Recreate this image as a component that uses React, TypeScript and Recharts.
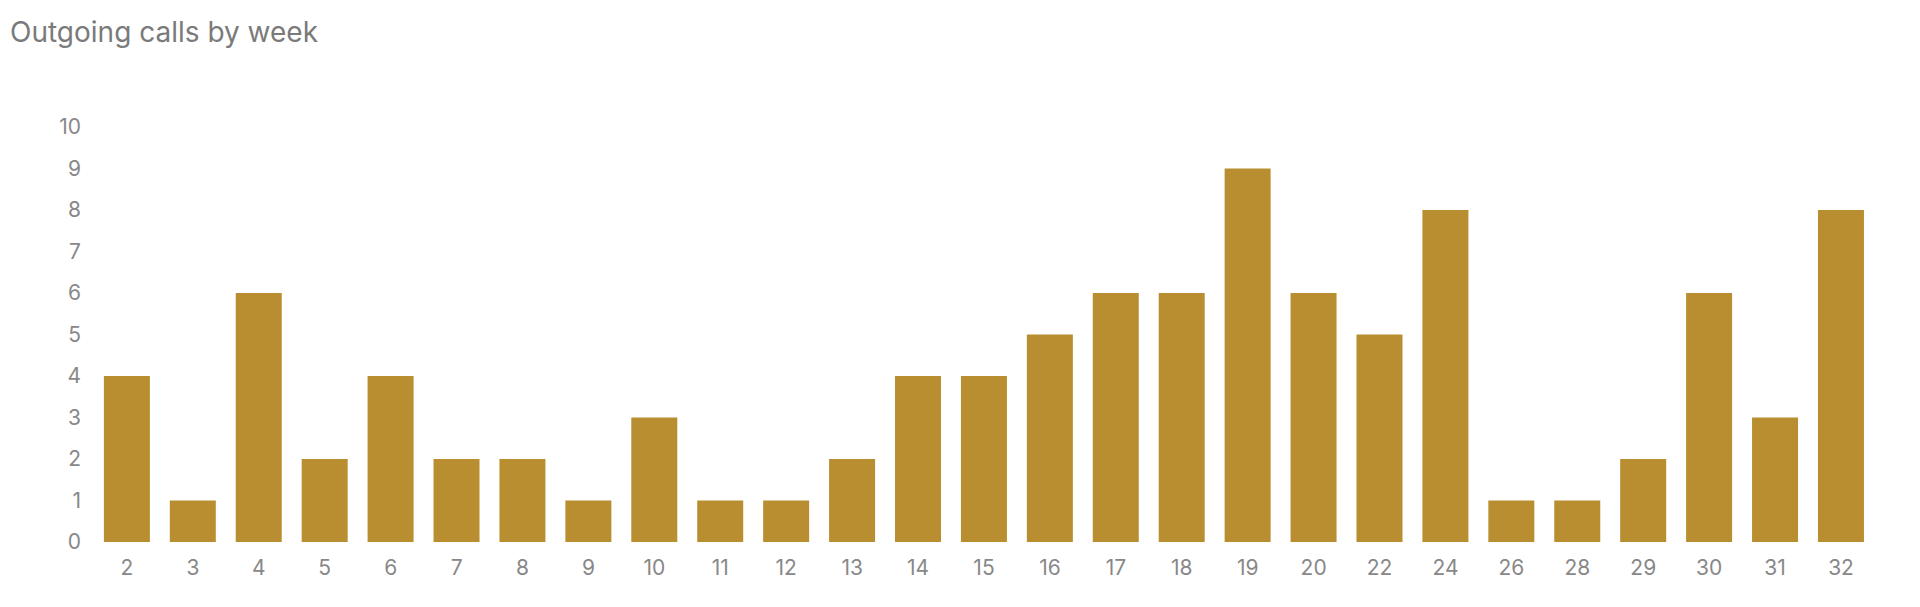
import React from "react";
import { BarChart, Bar, XAxis, YAxis } from "recharts";

const weeks = ["2", "3", "4", "5", "6", "7", "8", "9", "10", "11", "12", "13", "14", "15", "16", "17", "18", "19", "20", "22", "24", "26", "28", "29", "30", "31", "32"];
const calls = [4, 1, 6, 2, 4, 2, 2, 1, 3, 1, 1, 2, 4, 4, 5, 6, 6, 9, 6, 5, 8, 1, 1, 2, 6, 3, 8];
const yTicks = [0, 1, 2, 3, 4, 5, 6, 7, 8, 9, 10];

const data = weeks.map((week, i) => ({ week, calls: calls[i] }));

const font = "Inter, 'Liberation Sans', Arial, sans-serif";

const App: React.FC = () => {
  return (
    <div style={{ position: "absolute", left: 0, top: 0, width: 1920, height: 607, background: "#fff", fontFamily: font }}>
      <div style={{ position: "absolute", left: 10, top: 15, fontSize: 28, color: "#7a7a7a" }}>
        Outgoing calls by week
      </div>
      <BarChart
        width={1920}
        height={607}
        data={data}
        margin={{ top: 127, right: 46, left: 34, bottom: 35 }}
        barCategoryGap="15%"
      >
        <XAxis
          dataKey="week"
          axisLine={false}
          tickLine={false}
          tickSize={0}
          tickMargin={18}
          height={30}
          interval={0}
          tick={{ fill: "#888", fontSize: 21, fontFamily: font }}
        />
        <YAxis
          domain={[0, 10]}
          ticks={yTicks}
          axisLine={false}
          tickLine={false}
          tickSize={0}
          tickMargin={13}
          width={60}
          interval={0}
          tick={{ fill: "#888", fontSize: 21, fontFamily: font }}
        />
        <Bar dataKey="calls" fill="#b98e31" isAnimationActive={false} />
      </BarChart>
    </div>
  );
};

export default App;
